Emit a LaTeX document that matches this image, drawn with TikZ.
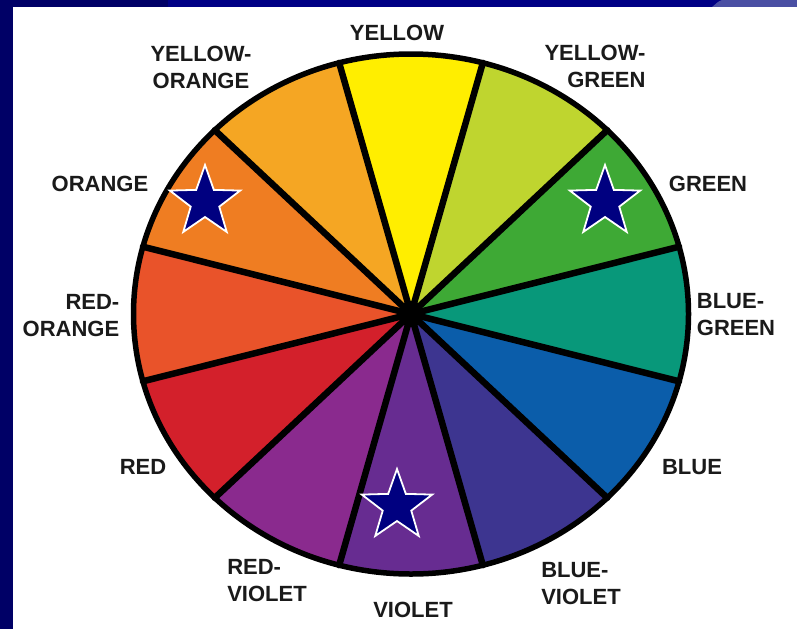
\documentclass[tikz,border=0pt]{standalone}
\usepackage{fontspec}
\setmainfont{Liberation Sans}
\definecolor{bgnavy}{HTML}{000066}
\definecolor{bgnavyb}{HTML}{000085}
\definecolor{bglight}{HTML}{4A4FA3}
\definecolor{labgray}{HTML}{1A1A1A}
\definecolor{starblue}{HTML}{000080}
\definecolor{cY}{HTML}{FFEE00}
\definecolor{cYG}{HTML}{BFD52F}
\definecolor{cG}{HTML}{3EA935}
\definecolor{cBG}{HTML}{08987A}
\definecolor{cB}{HTML}{0B5DAA}
\definecolor{cBV}{HTML}{3D3590}
\definecolor{cV}{HTML}{672C91}
\definecolor{cRV}{HTML}{8A2A8E}
\definecolor{cR}{HTML}{D3202B}
\definecolor{cRO}{HTML}{E9532A}
\definecolor{cO}{HTML}{EF7D22}
\definecolor{cYO}{HTML}{F5A623}
\newcommand\mystar[1]{%
  \path[starsty] (#1) +(90:37pt) -- +(126:15pt) -- +(162:37pt) -- +(198:15pt)
    -- +(234:37pt) -- +(270:15pt) -- +(306:37pt) -- +(342:15pt)
    -- +(18:37pt) -- +(54:15pt) -- cycle;}
\begin{document}
\begin{tikzpicture}[x=1pt,y=-1pt,
  lab/.style={font=\fontsize{22}{27}\selectfont\bfseries, text=labgray, inner sep=0pt},
  spoke/.style={line width=6.5pt, line cap=round},
  starsty/.style={fill=starblue, draw=white, line width=1.8pt, line join=miter}]
\useasboundingbox (0,0) rectangle (797,629);
% background
\fill[bgnavy] (0,0) rectangle (797,629);
\fill[bgnavyb] (168,0) rectangle (797,7);
\fill[bglight] (722,0) -- (797,0) -- (797,7) -- (712,7) .. controls (716,4) and (718,1) .. (722,0) -- cycle;
\fill[white] (13,7) rectangle (797,629);
% wheel
\coordinate (C) at (411,314);
\begin{scope}[shift={(C)}]
  \foreach \s/\c in {75/cY,45/cYG,15/cG,-15/cBG,-45/cB,-75/cBV,-105/cV,-135/cRV,-165/cR,165/cRO,135/cO,105/cYO}
    \fill[\c] (0,0) -- (\s:277.5pt and 260pt) arc[start angle=\s, delta angle=30, x radius=277.5pt, y radius=260pt] -- cycle;
  \foreach \s in {15,45,...,345}
    \draw[spoke] (0,0) -- (\s:277.5pt and 260pt);
  \draw[line width=5.5pt] (0,0) ellipse [x radius=277.5pt, y radius=260pt];
  \fill (0,0) circle[radius=13pt];
\end{scope}
% stars
\mystar{205,202}
\mystar{605,202}
\mystar{397,506}
% labels
\node[lab] (lY) at (397,33) {YELLOW};
\node[lab, align=right] (lYG) at (595,66) {YELLOW-\\GREEN};
\node[lab] (lG) at (708,184) {GREEN};
\node[lab, align=left] (lBG) at (736,315) {BLUE-\\GREEN};
\node[lab] (lB) at (692,467) {BLUE};
\node[lab, align=left] (lBV) at (581,584) {BLUE-\\VIOLET};
\node[lab] (lV) at (413,610) {VIOLET};
\node[lab, align=left] (lRV) at (267,581) {RED-\\VIOLET};
\node[lab] (lR) at (143,467) {RED};
\node[lab, align=right] (lRO) at (71,316) {RED-\\ORANGE};
\node[lab] (lO) at (100,184) {ORANGE};
\node[lab, align=center] (lYO) at (201,67) {YELLOW-\\ORANGE};
\end{tikzpicture}
\end{document}
